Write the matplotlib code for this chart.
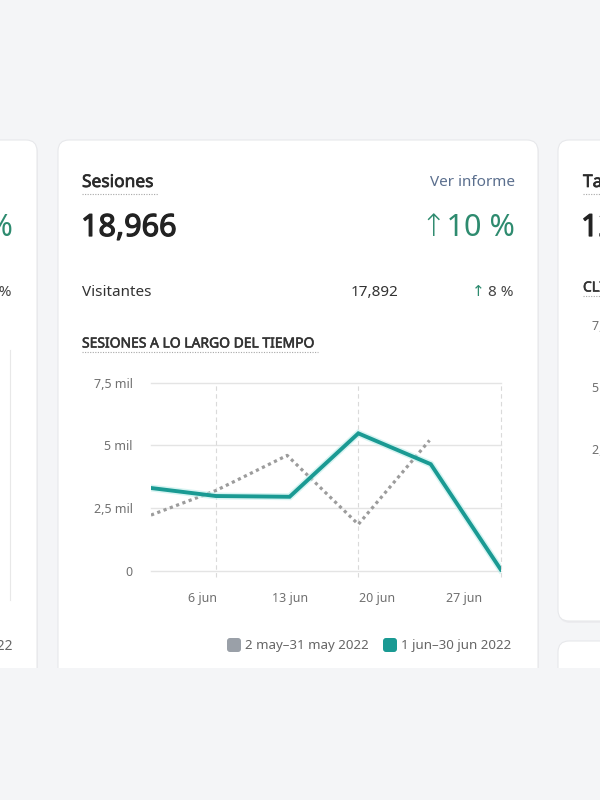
import matplotlib
matplotlib.use("Agg")
import matplotlib.pyplot as plt
import matplotlib.patheffects as pe
from matplotlib.patches import FancyBboxPatch, Rectangle

plt.rcParams['font.family'] = ['Noto Sans', 'DejaVu Sans']

# ---- data ----
days_jun = [1.9, 7.1, 13.0, 18.5, 24.3, 29.9]
sesiones_jun = [3300, 2980, 2950, 5480, 4250, 50]
days_may = [1.9, 7.1, 12.8, 18.5, 24.2]
sesiones_may = [2220, 3200, 4600, 1850, 5200]
y_ticks = [0, 2500, 5000, 7500]
y_tick_labels = ['0', '2,5 mil', '5 mil', '7,5 mil']
x_ticks = [6, 13, 20, 27]
x_tick_labels = ['6 jun', '13 jun', '20 jun', '27 jun']
legend_labels = ['2 may–31 may 2022', '1 jun–30 jun 2022']
series_colors = ['#9aa0a8', '#1a9a93']

BG = '#f4f5f7'
fig = plt.figure(figsize=(6, 8), dpi=100, facecolor=BG)

# background / card layer in pixel coordinates
bg = fig.add_axes([0, 0, 1, 1], zorder=0)
bg.set_xlim(0, 600)
bg.set_ylim(800, 0)
bg.axis('off')
bg.set_facecolor(BG)


def card(x0, y0, x1, y1):
    bg.add_patch(FancyBboxPatch((x0 + 1, y0 + 2), x1 - x0, y1 - y0,
                                boxstyle="round,pad=0,rounding_size=11",
                                fc='#ececef', ec='none', zorder=1))
    bg.add_patch(FancyBboxPatch((x0, y0), x1 - x0, y1 - y0,
                                boxstyle="round,pad=0,rounding_size=11",
                                fc='white', ec='#e7e8eb', lw=0.8, zorder=2))


card(-40, 140, 37, 720)
card(58, 140, 538, 720)
card(558, 140, 660, 621)
card(558, 641, 660, 720)
bg.add_patch(Rectangle((0, 668), 600, 132, fc=BG, ec='none', zorder=10))


def dotted_underline(x0, x1, y):
    bg.plot([x0, x1], [y, y], color='#a8a8a8', lw=0.8, ls=(0, (1, 1.3)), zorder=3)


def heavy(color, w=0.6):
    return [pe.withStroke(linewidth=w, foreground=color)]


dark = '#2b2b2b'
teal_txt = '#2e8b6f'

# center card text
bg.text(82, 182, 'Sesiones', fontsize=12.5, color=dark, va='center', ha='left', zorder=3,
        path_effects=heavy(dark, 0.5))
dotted_underline(82, 158, 194)
bg.text(515, 182, 'Ver informe', fontsize=11, color='#5b6f8e', va='center', ha='right', zorder=3)
bg.text(81, 228, '18,966', fontsize=22, color='#222222', va='center', ha='left', zorder=3,
        path_effects=heavy('#222222', 0.9))
bg.text(515, 228, '↑10 %', fontsize=22, color=teal_txt, fontweight='light', va='center', ha='right', zorder=3)
bg.text(82, 293, 'Visitantes', fontsize=11, color='#333333', va='center', ha='left', zorder=3)
bg.text(398, 293, '17,892', fontsize=11, color='#333333', va='center', ha='right', zorder=3)
bg.text(514, 293, '8 %', fontsize=11, color='#444444', va='center', ha='right', zorder=3)
bg.text(485, 292, '↑', fontsize=11, color=teal_txt, va='center', ha='right', zorder=3)
bg.text(82, 344, 'SESIONES A LO LARGO DEL TIEMPO', fontsize=10, color='#333333',
        va='center', ha='left', zorder=3, path_effects=heavy('#333333', 0.4))
dotted_underline(82, 318, 352)

# left card fragments
bg.text(13, 228, '0 %', fontsize=22, color=teal_txt, fontweight='light', va='center', ha='right', zorder=3)
bg.text(12, 293, '8 %', fontsize=11, color='#444444', va='center', ha='right', zorder=3)
bg.plot([10, 10], [350, 600], color='#e8e8e8', lw=0.8, zorder=3)
bg.text(13, 646, '2022', fontsize=10, color='#666666', va='center', ha='right', zorder=3)

# right card fragments
bg.text(583, 182, 'Tasa', fontsize=12.5, color=dark, va='center', ha='left', zorder=3,
        path_effects=heavy(dark, 0.5))
dotted_underline(583, 640, 194)
bg.text(581, 228, '12', fontsize=22, color='#222222', va='center', ha='left', zorder=3,
        path_effects=heavy('#222222', 0.9))
bg.text(583, 288, 'CLIENTES', fontsize=10, color='#333333', va='center', ha='left', zorder=3,
        path_effects=heavy('#333333', 0.4))
dotted_underline(583, 640, 296)
for yy, lab in zip([326, 388, 450], ['7,5 mil', '5 mil', '2,5 mil']):
    bg.text(592, yy, lab, fontsize=9, color='#707070', va='center', ha='left', zorder=3)

# legend
lx = [227, 383]
for x0, lab, c in zip(lx, legend_labels, series_colors):
    bg.add_patch(FancyBboxPatch((x0, 638), 14, 14, boxstyle="round,pad=0,rounding_size=3",
                                fc=c, ec='none', zorder=3))
    bg.text(x0 + 18, 645, lab, fontsize=9.6, color='#666666', va='center', ha='left', zorder=3)

# ---- chart ----
ax = fig.add_axes([151 / 600, 1 - 577 / 800, 349.7 / 600, (577 - 382.7) / 800], zorder=1)
ax.set_facecolor('none')
ax.set_xlim(days_jun[0], days_jun[-1])
ax.set_ylim(-250, 7500)
for s in ax.spines.values():
    s.set_visible(False)
for yv in y_ticks:
    ax.axhline(yv, color='#e4e4e4', lw=1, zorder=1, clip_on=False)
for xv in days_jun[1::2]:
    ax.axvline(xv, color='#dadada', lw=0.8, ls=(0, (4, 3)), zorder=1, clip_on=False)

ax.plot(days_may, sesiones_may, color='#9c9c9c', lw=2.3, ls=(0, (1, 1.1)), zorder=2)
ax.plot(days_jun, sesiones_jun, color='#bdeeea', lw=5, alpha=0.6, zorder=3, solid_joinstyle='miter')
ax.plot(days_jun, sesiones_jun, color=series_colors[1], lw=2.8, zorder=4, solid_joinstyle='miter')

ax.set_yticks(y_ticks, y_tick_labels)
ax.set_xticks(x_ticks, x_tick_labels)
ax.tick_params(axis='y', length=0, pad=13, labelsize=9, labelcolor='#707070')
ax.tick_params(axis='x', length=0, pad=11, labelsize=9, labelcolor='#707070')

fig.savefig('out.png', dpi=100, facecolor=BG)
